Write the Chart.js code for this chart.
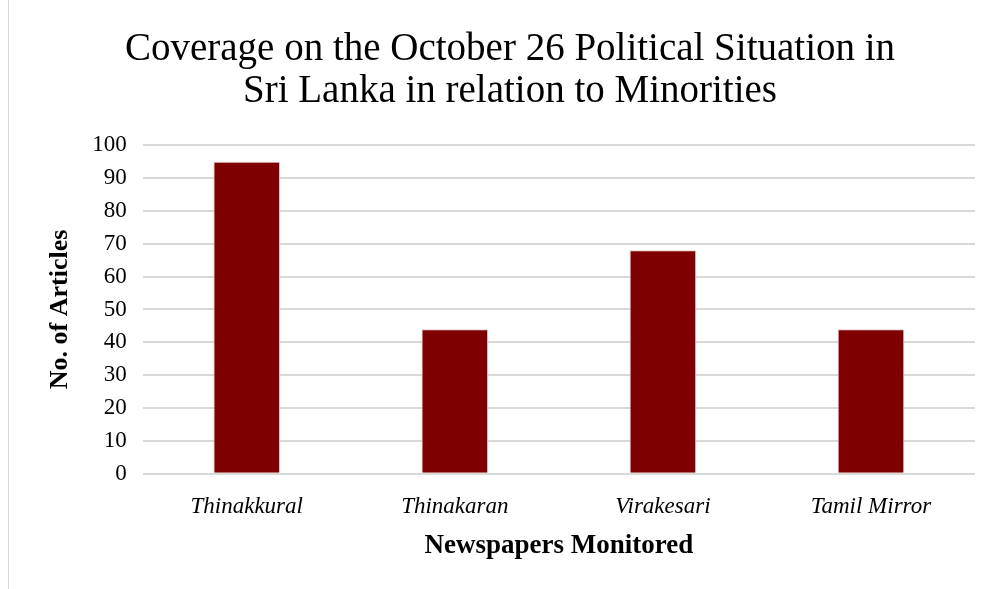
<!DOCTYPE html>
<html>
<head>
<meta charset="utf-8">
<script src="https://cdn.jsdelivr.net/npm/chart.js@4"></script>
<style>
  html, body { margin: 0; padding: 0; background: #fff; }
  .wrap { position: relative; width: 1003px; height: 589px; }
  .edge { position: absolute; left: 8px; top: 0; bottom: 0; border-left: 1px solid #d9d9d9; }
</style>
</head>
<body>
<div class="wrap">
  <div class="edge"></div>
  <canvas class="bar-chart" width="1003" height="589"></canvas>
</div>
<script>
const newspapers = ["Thinakkural", "Thinakaran", "Virakesari", "Tamil Mirror"];
const articles = [95, 44, 68, 44];
const titleLines = ["Coverage on the October 26 Political Situation in", "Sri Lanka in relation to Minorities"];

const BarChart = document.querySelector(".bar-chart");

new Chart(BarChart, {
    type: 'bar',
    data: {
        labels: newspapers,
        datasets: [
            {
                label: "No. of Articles",
                data: articles,
                backgroundColor: "#7f0000",
                borderColor: "#e0c8c8",
                borderWidth: 1,
                categoryPercentage: 1,
                barPercentage: 0.32,
            },
        ],
    },
    options: {
        responsive: false,
        animation: false,
        layout: {
            padding: { left: 45, right: 28, top: 21, bottom: 24 },
        },
        plugins: {
            legend: { display: false },
            tooltip: { enabled: false },
            title: {
                display: true,
                text: titleLines,
                color: "#000",
                font: { family: "Liberation Serif", size: 39, weight: "normal", lineHeight: 1.08 },
                padding: { top: 8, bottom: 32 },
            },
        },
        scales: {
            x: {
                grid: { display: false },
                border: { display: false },
                ticks: {
                    color: "#000",
                    font: { family: "Liberation Serif", size: 23, style: "italic" },
                    padding: 11,
                },
                title: {
                    display: true,
                    text: "Newspapers Monitored",
                    color: "#000",
                    font: { family: "Liberation Serif", size: 27, weight: "bold", lineHeight: 1.1 },
                    padding: { top: 0 },
                },
            },
            y: {
                min: 0,
                max: 100,
                ticks: {
                    stepSize: 10,
                    color: "#000",
                    font: { family: "Liberation Serif", size: 23 },
                    padding: 16,
                },
                grid: { color: "#d9d9d9", lineWidth: 2, drawTicks: false },
                border: { display: false },
                title: {
                    display: true,
                    text: "No. of Articles",
                    color: "#000",
                    font: { family: "Liberation Serif", size: 26, weight: "bold" },
                    padding: { top: 0, bottom: 0 },
                },
            },
        },
    },
});
</script>
</body>
</html>
